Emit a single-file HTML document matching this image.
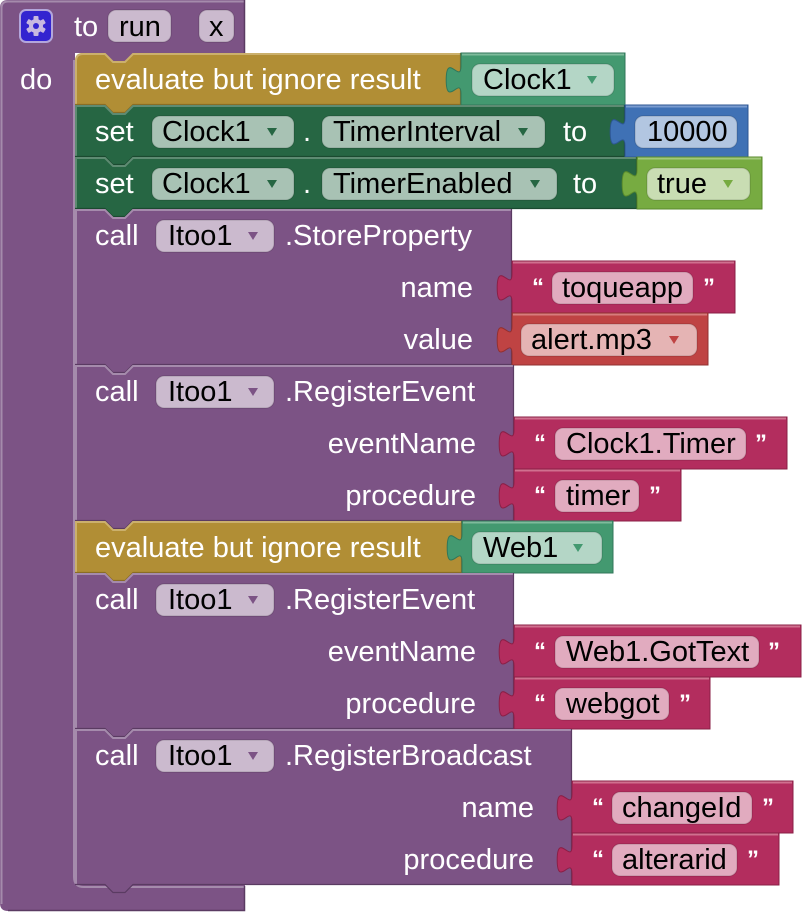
<!DOCTYPE html>
<html><head><meta charset="utf-8">
<style>
html,body{margin:0;padding:0;background:#fff;width:802px;height:912px;overflow:hidden}
svg{display:block}
text{font-family:"Liberation Sans",Arial,sans-serif;font-size:29px}
.w{fill:#fff}
.k{fill:#000}
.q{fill:#fff;font-size:24px;font-weight:bold}
.fs{stroke:#000;stroke-opacity:0.12;stroke-width:1.5}
</style></head>
<body>
<svg width="802" height="912" viewBox="0 0 802 912" xmlns="http://www.w3.org/2000/svg">
<!-- Procedure block -->
<path d="M0,8 Q0,0 8,0 H245 V53 H133 l-8,8 h-12 l-8,-8 H75 V877 Q75,885 83,885 H245 V911 H8 Q0,911 0,903 Z" fill="#7C5385"/>
<path d="M1.5,904 V8 Q1.5,1.5 8,1.5 H244" fill="none" stroke="#a58bac" stroke-width="2"/>
<path d="M74,60 V877 Q74,887 84,887 H244" fill="none" stroke="#a58bac" stroke-width="2"/>
<path d="M244.5,0 V53 M244.5,886 V910.5 H8" fill="none" stroke="#5a3b62" stroke-width="1.5"/>

<!-- gear -->
<rect x="20" y="10" width="32" height="32" rx="6" fill="#3324d0" stroke="#b3a6dc" stroke-width="2"/>
<g transform="translate(36,26)" fill="#c8b8e0">
<circle r="7"/>
<rect x="-2.5" y="-10" width="5" height="20" rx="1"/>
<rect x="-2.5" y="-10" width="5" height="20" rx="1" transform="rotate(60)"/>
<rect x="-2.5" y="-10" width="5" height="20" rx="1" transform="rotate(120)"/>
</g>
<circle cx="36" cy="26" r="3" fill="#3324d0"/>

<text x="74" y="36" class="w">to</text>
<rect x="108" y="10" width="63" height="32" rx="8" fill="#cbbace" class="fs"/>
<text x="119" y="36" class="k">run</text>
<rect x="199" y="10" width="35" height="32" rx="8" fill="#cbbace" class="fs"/>
<text x="209" y="36" class="k">x</text>
<text x="20" y="89" class="w">do</text>

<!-- Eval 1 -->
<path d="M75,61 Q75,53 83,53 H105 l8,8 h12 l8,-8 H461 V105 H133 l-8,8 h-12 l-8,-8 H75 Z" fill="#B18E35"/>
<path d="M76,104 V61 Q76,54 83,54 H105 l8,8 h12 l8,-8 H460" stroke="#cbb06c" stroke-width="2" fill="none"/>
<path d="M460.5,53 V104.5 H133 l-8,8 h-12 l-8,-8 H75" stroke="#8a6d25" stroke-width="1.2" fill="none"/>
<text x="95" y="89" class="w">evaluate but ignore result</text>
<path d="M461,53 H625 V105 H461 V93.75 C461,75.25 446.2,108.5 446.2,79.9 C446.2,51.2 461,84.5 461,66 Z" fill="#439970" stroke="#30765a" stroke-width="1"/>
<path d="M462,54.5 H624" stroke="#7fbb9c" stroke-width="2"/>
<rect x="472" y="64" width="142" height="32" rx="8" fill="#b4d6c6" class="fs"/>
<text x="483" y="89" class="k">Clock1</text>
<polygon points="587,76 597,76 592,84" fill="#439970"/>

<!-- Set 1 -->
<path d="M75,105 H105 l8,8 h12 l8,-8 H625 V157 H133 l-8,8 h-12 l-8,-8 H75 Z" fill="#266643"/>
<path d="M76,157 V106 H105 l8,8 h12 l8,-8 H624" stroke="#5e8b72" stroke-width="2" fill="none"/>
<path d="M624.5,105 V156.5 H133 l-8,8 h-12 l-8,-8 H75" stroke="#1b4a30" stroke-width="1.2" fill="none"/>
<text x="95" y="141" class="w">set</text>
<rect x="152" y="116" width="142" height="32" rx="8" fill="#a8c2b4" class="fs"/>
<text x="162" y="141" class="k">Clock1</text>
<polygon points="267,128 277,128 272,136" fill="#266643"/>
<text x="303" y="141" class="w">.</text>
<rect x="322" y="116" width="223" height="32" rx="8" fill="#a8c2b4" class="fs"/>
<text x="333" y="141" class="k">TimerInterval</text>
<polygon points="518,128 528,128 523,136" fill="#266643"/>
<text x="563" y="141" class="w">to</text>
<path d="M625,105 H748 V157 H625 V145.75 C625,127.25 610.2,160.5 610.2,131.9 C610.2,103.2 625,136.5 625,118 Z" fill="#3F71B5" stroke="#2d5692" stroke-width="1"/>
<path d="M626,106.5 H747" stroke="#7a9cd0" stroke-width="2"/>
<rect x="635" y="116" width="102" height="32" rx="8" fill="#b2c6e1" class="fs"/>
<text x="647" y="141" class="k">10000</text>

<!-- Set 2 -->
<path d="M75,157 H105 l8,8 h12 l8,-8 H637 V209 H133 l-8,8 h-12 l-8,-8 H75 Z" fill="#266643"/>
<path d="M76,209 V158 H105 l8,8 h12 l8,-8 H636" stroke="#5e8b72" stroke-width="2" fill="none"/>
<path d="M636.5,157 V208.5 H133 l-8,8 h-12 l-8,-8 H75" stroke="#1b4a30" stroke-width="1.2" fill="none"/>
<text x="95" y="193" class="w">set</text>
<rect x="152" y="168" width="142" height="32" rx="8" fill="#a8c2b4" class="fs"/>
<text x="162" y="193" class="k">Clock1</text>
<polygon points="267,180 277,180 272,188" fill="#266643"/>
<text x="303" y="193" class="w">.</text>
<rect x="322" y="168" width="235" height="32" rx="8" fill="#a8c2b4" class="fs"/>
<text x="333" y="193" class="k">TimerEnabled</text>
<polygon points="530,180 540,180 535,188" fill="#266643"/>
<text x="573" y="193" class="w">to</text>
<path d="M637,157 H762 V209 H637 V197.75 C637,179.25 622.2,212.5 622.2,183.9 C622.2,155.2 637,188.5 637,170 Z" fill="#77AB41" stroke="#5a8a2c" stroke-width="1"/>
<path d="M638,158.5 H761" stroke="#a2c97a" stroke-width="2"/>
<rect x="647" y="168" width="103" height="32" rx="8" fill="#c9ddb3" class="fs"/>
<text x="657" y="193" class="k">true</text>
<polygon points="723,180 733,180 728,188" fill="#77AB41"/>

<!-- Call 1 StoreProperty -->
<path d="M75,209 H105 l8,8 h12 l8,-8 H512 V365 H133 l-8,8 h-12 l-8,-8 H75 Z" fill="#7C5385"/>
<path d="M76,365 V210 H105 l8,8 h12 l8,-8 H511" stroke="#a58bac" stroke-width="2" fill="none"/>
<path d="M511.5,209 V364.5 H133 l-8,8 h-12 l-8,-8 H75" stroke="#5a3b62" stroke-width="1.2" fill="none"/>
<text x="95" y="245" class="w">call</text>
<rect x="156" y="220" width="118" height="32" rx="8" fill="#cbbace" class="fs"/>
<text x="168" y="245" class="k">Itoo1</text>
<polygon points="248,232 258,232 253,240" fill="#7C5385"/>
<text x="285" y="245" class="w">.StoreProperty</text>
<text x="473" y="297" class="w" text-anchor="end">name</text>
<text x="473" y="349" class="w" text-anchor="end">value</text>
<path d="M512,261 H735 V313 H512 V301.75 C512,283.25 497.2,316.5 497.2,287.9 C497.2,259.2 512,292.5 512,274 Z" fill="#B32D5E" stroke="#8a1f46" stroke-width="1"/>
<path d="M513,262.5 H734" stroke="#d0708f" stroke-width="2"/>
<text x="532" y="295" class="q">“</text>
<rect x="552" y="272" width="141" height="32" rx="8" fill="#e1abbf" class="fs"/>
<text x="562" y="297" class="k">toqueapp</text>
<text x="703" y="295" class="q">”</text>
<path d="M512,313 H708 V365 H512 V353.75 C512,335.25 497.2,368.5 497.2,339.9 C497.2,311.2 512,344.5 512,326 Z" fill="#BF4343" stroke="#923030" stroke-width="1"/>
<path d="M513,314.5 H707" stroke="#d77c7c" stroke-width="2"/>
<rect x="521" y="324" width="176" height="32" rx="8" fill="#e5b4b4" class="fs"/>
<text x="531" y="349" class="k">alert.mp3</text>
<polygon points="669,336 679,336 674,344" fill="#BF4343"/>

<!-- Call 2 RegisterEvent -->
<path d="M75,365 H105 l8,8 h12 l8,-8 H514 V521 H133 l-8,8 h-12 l-8,-8 H75 Z" fill="#7C5385"/>
<path d="M76,521 V366 H105 l8,8 h12 l8,-8 H513" stroke="#a58bac" stroke-width="2" fill="none"/>
<path d="M513.5,365 V520.5 H133 l-8,8 h-12 l-8,-8 H75" stroke="#5a3b62" stroke-width="1.2" fill="none"/>
<text x="95" y="401" class="w">call</text>
<rect x="156" y="376" width="118" height="32" rx="8" fill="#cbbace" class="fs"/>
<text x="168" y="401" class="k">Itoo1</text>
<polygon points="248,388 258,388 253,396" fill="#7C5385"/>
<text x="285" y="401" class="w">.RegisterEvent</text>
<text x="476" y="453" class="w" text-anchor="end">eventName</text>
<text x="476" y="505" class="w" text-anchor="end">procedure</text>
<path d="M514,417 H787 V469 H514 V457.75 C514,439.25 499.2,472.5 499.2,443.9 C499.2,415.2 514,448.5 514,430 Z" fill="#B32D5E" stroke="#8a1f46" stroke-width="1"/>
<path d="M515,418.5 H786" stroke="#d0708f" stroke-width="2"/>
<text x="534" y="451" class="q">“</text>
<rect x="555" y="428" width="191" height="32" rx="8" fill="#e1abbf" class="fs"/>
<text x="566" y="453" class="k">Clock1.Timer</text>
<text x="755" y="451" class="q">”</text>
<path d="M514,469 H681 V521 H514 V509.75 C514,491.25 499.2,524.5 499.2,495.9 C499.2,467.2 514,500.5 514,482 Z" fill="#B32D5E" stroke="#8a1f46" stroke-width="1"/>
<path d="M515,470.5 H680" stroke="#d0708f" stroke-width="2"/>
<text x="534" y="503" class="q">“</text>
<rect x="555" y="480" width="84" height="32" rx="8" fill="#e1abbf" class="fs"/>
<text x="566" y="505" class="k">timer</text>
<text x="649" y="503" class="q">”</text>

<!-- Eval 2 -->
<path d="M75,521 H105 l8,8 h12 l8,-8 H462 V573 H133 l-8,8 h-12 l-8,-8 H75 Z" fill="#B18E35"/>
<path d="M76,573 V522 H105 l8,8 h12 l8,-8 H461" stroke="#cbb06c" stroke-width="2" fill="none"/>
<path d="M461.5,521 V572.5 H133 l-8,8 h-12 l-8,-8 H75" stroke="#8a6d25" stroke-width="1.2" fill="none"/>
<text x="95" y="557" class="w">evaluate but ignore result</text>
<path d="M462,521 H613 V573 H462 V561.75 C462,543.25 447.2,576.5 447.2,547.9 C447.2,519.2 462,552.5 462,534 Z" fill="#439970" stroke="#30765a" stroke-width="1"/>
<path d="M463,522.5 H612" stroke="#7fbb9c" stroke-width="2"/>
<rect x="472" y="532" width="130" height="32" rx="8" fill="#b4d6c6" class="fs"/>
<text x="483" y="557" class="k">Web1</text>
<polygon points="573,544 583,544 578,552" fill="#439970"/>

<!-- Call 3 RegisterEvent -->
<path d="M75,573 H105 l8,8 h12 l8,-8 H514 V729 H133 l-8,8 h-12 l-8,-8 H75 Z" fill="#7C5385"/>
<path d="M76,729 V574 H105 l8,8 h12 l8,-8 H513" stroke="#a58bac" stroke-width="2" fill="none"/>
<path d="M513.5,573 V728.5 H133 l-8,8 h-12 l-8,-8 H75" stroke="#5a3b62" stroke-width="1.2" fill="none"/>
<text x="95" y="609" class="w">call</text>
<rect x="156" y="584" width="118" height="32" rx="8" fill="#cbbace" class="fs"/>
<text x="168" y="609" class="k">Itoo1</text>
<polygon points="248,596 258,596 253,604" fill="#7C5385"/>
<text x="285" y="609" class="w">.RegisterEvent</text>
<text x="476" y="661" class="w" text-anchor="end">eventName</text>
<text x="476" y="713" class="w" text-anchor="end">procedure</text>
<path d="M514,625 H801 V677 H514 V665.75 C514,647.25 499.2,680.5 499.2,651.9 C499.2,623.2 514,656.5 514,638 Z" fill="#B32D5E" stroke="#8a1f46" stroke-width="1"/>
<path d="M515,626.5 H800" stroke="#d0708f" stroke-width="2"/>
<text x="534" y="659" class="q">“</text>
<rect x="555" y="636" width="204" height="32" rx="8" fill="#e1abbf" class="fs"/>
<text x="566" y="661" class="k">Web1.GotText</text>
<text x="768" y="659" class="q">”</text>
<path d="M514,677 H710 V729 H514 V717.75 C514,699.25 499.2,732.5 499.2,703.9 C499.2,675.2 514,708.5 514,690 Z" fill="#B32D5E" stroke="#8a1f46" stroke-width="1"/>
<path d="M515,678.5 H709" stroke="#d0708f" stroke-width="2"/>
<text x="534" y="711" class="q">“</text>
<rect x="555" y="688" width="114" height="32" rx="8" fill="#e1abbf" class="fs"/>
<text x="566" y="713" class="k">webgot</text>
<text x="679" y="711" class="q">”</text>

<!-- Call 4 RegisterBroadcast -->
<path d="M75,729 H105 l8,8 h12 l8,-8 H572 V885 H133 l-8,8 h-12 l-8,-8 H75 Z" fill="#7C5385"/>
<path d="M76,885 V730 H105 l8,8 h12 l8,-8 H571" stroke="#a58bac" stroke-width="2" fill="none"/>
<path d="M571.5,729 V884.5 H133 l-8,8 h-12 l-8,-8 H75" stroke="#5a3b62" stroke-width="1.2" fill="none"/>
<text x="95" y="765" class="w">call</text>
<rect x="156" y="740" width="118" height="32" rx="8" fill="#cbbace" class="fs"/>
<text x="168" y="765" class="k">Itoo1</text>
<polygon points="248,752 258,752 253,760" fill="#7C5385"/>
<text x="285" y="765" class="w">.RegisterBroadcast</text>
<text x="534" y="817" class="w" text-anchor="end">name</text>
<text x="534" y="869" class="w" text-anchor="end">procedure</text>
<path d="M572,781 H793 V833 H572 V821.75 C572,803.25 557.2,836.5 557.2,807.9 C557.2,779.2 572,812.5 572,794 Z" fill="#B32D5E" stroke="#8a1f46" stroke-width="1"/>
<path d="M573,782.5 H792" stroke="#d0708f" stroke-width="2"/>
<text x="592" y="815" class="q">“</text>
<rect x="612" y="792" width="140" height="32" rx="8" fill="#e1abbf" class="fs"/>
<text x="622" y="817" class="k">changeId</text>
<text x="762" y="815" class="q">”</text>
<path d="M572,833 H779 V885 H572 V873.75 C572,855.25 557.2,888.5 557.2,859.9 C557.2,831.2 572,864.5 572,846 Z" fill="#B32D5E" stroke="#8a1f46" stroke-width="1"/>
<path d="M573,834.5 H778" stroke="#d0708f" stroke-width="2"/>
<text x="592" y="867" class="q">“</text>
<rect x="612" y="844" width="125" height="32" rx="8" fill="#e1abbf" class="fs"/>
<text x="622" y="869" class="k">alterarid</text>
<text x="747" y="867" class="q">”</text>
</svg>
</body></html>
